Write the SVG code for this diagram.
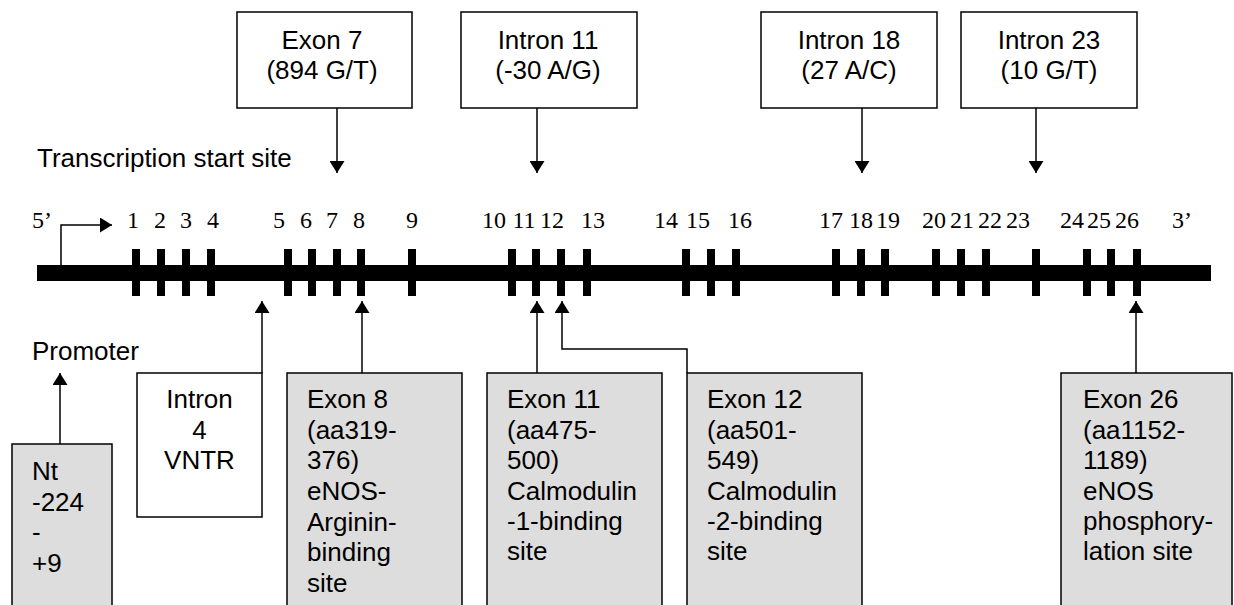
<svg xmlns="http://www.w3.org/2000/svg" width="1234" height="605" viewBox="0 0 1234 605">
<style>
.t{font-family:"Liberation Sans",Arial,sans-serif;font-size:26px;fill:#000}
.m{text-anchor:middle}
.n{font-family:"Liberation Serif","Times New Roman",serif;font-size:24px;fill:#000;text-anchor:middle}
.box{fill:#fff;stroke:#000;stroke-width:1.5}
.gbox{fill:#dddddd;stroke:#000;stroke-width:1.5}
.c{fill:none;stroke:#000;stroke-width:1.5;marker-end:url(#ah)}
.tick{fill:#000}
</style>
<defs>
<marker id="ah" markerUnits="userSpaceOnUse" markerWidth="12" markerHeight="15" viewBox="0 0 12 15" refX="12" refY="7.5" orient="auto">
<path d="M0,0 L12,7.5 L0,15 z" fill="#000"/>
</marker>
</defs>

<g id="gene">
<rect x="37" y="265" width="1174" height="16" fill="#000"/>
<g class="tick">
<rect x="132" y="249" width="8" height="47"/>
<rect x="157" y="249" width="8" height="47"/>
<rect x="182" y="249" width="8" height="47"/>
<rect x="207" y="249" width="8" height="47"/>
<rect x="284" y="249" width="8" height="47"/>
<rect x="308" y="249" width="8" height="47"/>
<rect x="333" y="249" width="8" height="47"/>
<rect x="357" y="249" width="8" height="47"/>
<rect x="408" y="249" width="8" height="47"/>
<rect x="508" y="249" width="8" height="47"/>
<rect x="532" y="249" width="8" height="47"/>
<rect x="557" y="249" width="8" height="47"/>
<rect x="583" y="249" width="8" height="47"/>
<rect x="682" y="249" width="8" height="47"/>
<rect x="707" y="249" width="8" height="47"/>
<rect x="732" y="249" width="8" height="47"/>
<rect x="832" y="249" width="8" height="47"/>
<rect x="857" y="249" width="8" height="47"/>
<rect x="881" y="249" width="8" height="47"/>
<rect x="932" y="249" width="8" height="47"/>
<rect x="957" y="249" width="8" height="47"/>
<rect x="982" y="249" width="8" height="47"/>
<rect x="1032" y="249" width="8" height="47"/>
<rect x="1083" y="249" width="8" height="47"/>
<rect x="1107" y="249" width="8" height="47"/>
<rect x="1133" y="249" width="8" height="47"/>
</g>
<g id="numbers">
<text class="n" x="42" y="228">5’</text>
<text class="n" x="133" y="228">1</text>
<text class="n" x="160" y="228">2</text>
<text class="n" x="186" y="228">3</text>
<text class="n" x="213" y="228">4</text>
<text class="n" x="279" y="228">5</text>
<text class="n" x="306" y="228">6</text>
<text class="n" x="332" y="228">7</text>
<text class="n" x="359" y="228">8</text>
<text class="n" x="412" y="228">9</text>
<text class="n" x="494" y="228">10</text>
<text class="n" x="524" y="228">11</text>
<text class="n" x="552" y="228">12</text>
<text class="n" x="593" y="228">13</text>
<text class="n" x="666" y="228">14</text>
<text class="n" x="698" y="228">15</text>
<text class="n" x="740" y="228">16</text>
<text class="n" x="831" y="228">17</text>
<text class="n" x="861" y="228">18</text>
<text class="n" x="888" y="228">19</text>
<text class="n" x="934" y="228">20</text>
<text class="n" x="962" y="228">21</text>
<text class="n" x="990" y="228">22</text>
<text class="n" x="1018" y="228">23</text>
<text class="n" x="1072" y="228">24</text>
<text class="n" x="1099" y="228">25</text>
<text class="n" x="1127" y="228">26</text>
<text class="n" x="1182" y="228">3’</text>
</g>
</g>

<g id="label-tss"><text class="t" x="37" y="167">Transcription start site</text></g>
<g id="label-promoter"><text class="t" x="32" y="360">Promoter</text></g>

<g id="exon7">
<rect class="box" x="237" y="12" width="175" height="96"/>
<text class="t m" x="322" y="49">Exon 7</text>
<text class="t m" x="322" y="79">(894 G/T)</text>
</g>
<g id="intron11">
<rect class="box" x="461" y="12" width="176" height="96"/>
<text class="t m" x="548" y="49">Intron 11</text>
<text class="t m" x="548" y="79">(-30 A/G)</text>
</g>
<g id="intron18">
<rect class="box" x="761" y="12" width="176" height="96"/>
<text class="t m" x="849" y="49">Intron 18</text>
<text class="t m" x="849" y="79">(27 A/C)</text>
</g>
<g id="intron23">
<rect class="box" x="961" y="12" width="176" height="96"/>
<text class="t m" x="1049" y="49">Intron 23</text>
<text class="t m" x="1049" y="79">(10 G/T)</text>
</g>

<g id="nt">
<rect class="gbox" x="12" y="444" width="100" height="170"/>
<text class="t" x="32" y="480">Nt</text>
<text class="t" x="32" y="511">-224</text>
<text class="t" x="32" y="541">-</text>
<text class="t" x="32" y="572">+9</text>
</g>
<g id="intron4">
<rect class="box" x="137" y="373" width="125" height="144"/>
<text class="t m" x="199.5" y="408">Intron</text>
<text class="t m" x="199.5" y="439">4</text>
<text class="t m" x="199.5" y="469">VNTR</text>
</g>
<g id="exon8">
<rect class="gbox" x="287" y="373" width="175" height="240"/>
<text class="t" x="307" y="408">Exon 8</text>
<text class="t" x="307" y="439">(aa319-</text>
<text class="t" x="307" y="469">376)</text>
<text class="t" x="307" y="500">eNOS-</text>
<text class="t" x="307" y="531">Arginin-</text>
<text class="t" x="307" y="561">binding</text>
<text class="t" x="307" y="592">site</text>
</g>
<g id="exon11">
<rect class="gbox" x="487" y="373" width="175" height="240"/>
<text class="t" x="507" y="408">Exon 11</text>
<text class="t" x="507" y="439">(aa475-</text>
<text class="t" x="507" y="469">500)</text>
<text class="t" x="507" y="500">Calmodulin</text>
<text class="t" x="507" y="530">-1-binding</text>
<text class="t" x="507" y="560">site</text>
</g>
<g id="exon12">
<rect class="gbox" x="687" y="373" width="175" height="240"/>
<text class="t" x="707" y="408">Exon 12</text>
<text class="t" x="707" y="439">(aa501-</text>
<text class="t" x="707" y="469">549)</text>
<text class="t" x="707" y="500">Calmodulin</text>
<text class="t" x="707" y="530">-2-binding</text>
<text class="t" x="707" y="560">site</text>
</g>
<g id="exon26">
<rect class="gbox" x="1061" y="373" width="171" height="240"/>
<text class="t" x="1083" y="408">Exon 26</text>
<text class="t" x="1083" y="439">(aa1152-</text>
<text class="t" x="1083" y="469">1189)</text>
<text class="t" x="1083" y="500">eNOS</text>
<text class="t" x="1083" y="530">phosphory-</text>
<text class="t" x="1083" y="560">lation site</text>
</g>

<g id="connectors">
<path class="c" d="M337,108 V173"/>
<path class="c" d="M537,108 V173"/>
<path class="c" d="M862,108 V173"/>
<path class="c" d="M1036,108 V173"/>
<path class="c" d="M61,265 V225 H112"/>
<path class="c" d="M60,444 V373"/>
<path class="c" d="M262,373 V301"/>
<path class="c" d="M362,373 V301"/>
<path class="c" d="M537,373 V301"/>
<path class="c" d="M687,373 V349 H562 V301"/>
<path class="c" d="M1136,373 V301"/>
</g>
</svg>
